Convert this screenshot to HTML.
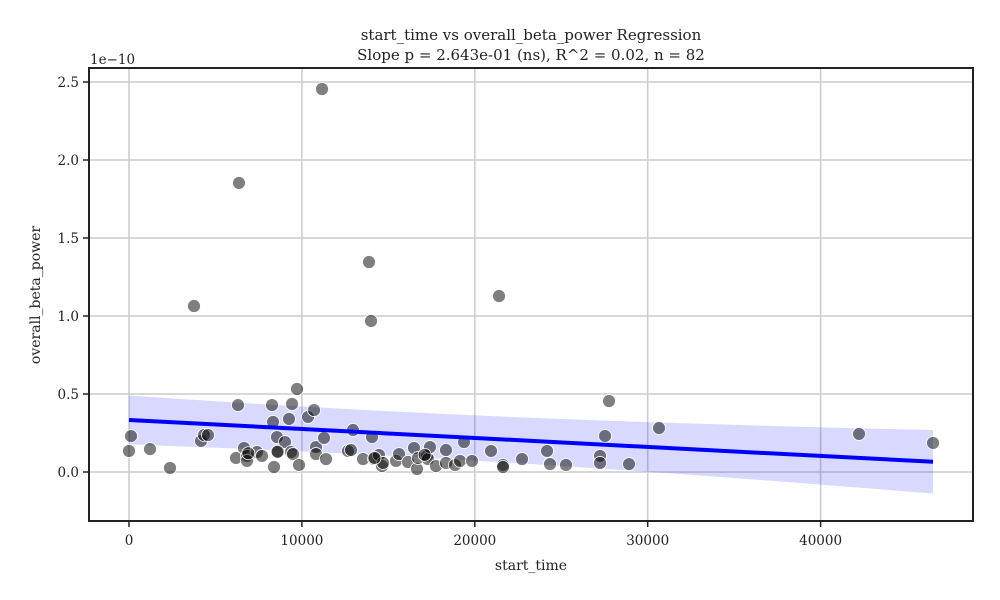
<!DOCTYPE html>
<html><head><meta charset="utf-8"><style>body{margin:0;background:#fff}svg{display:block}text{font-family:"DejaVu Serif","Liberation Serif",serif;fill:#222}</style></head>
<body>
<svg id="chart" width="1000" height="600"></svg>
<script>
const xTicks=[0,10000,20000,30000,40000];
const yTicks=[0,0.5,1.0,1.5,2.0,2.5];
const yTickLabels=["0.0","0.5","1.0","1.5","2.0","2.5"];
const startTime=[116,0,1215,2372,4164,4338,4570,6305,6189,6652,6825,6825,7404,7693,8271,8329,8560,8560,8387,9023,9254,9428,9370,9486,9717,9833,10354,10700,10816,10816,11279,11395,12667,12841,12957,13535,14055,14171,14460,14634,14692,15443,15617,16137,16484,16658,16716,17236,17294,17410,17757,18335,18335,18856,19145,19376,19839,20938,21632,21632,22731,24177,24351,25276,27243,27243,27532,27763,30655,28920,42223,46503,11163,6362,3760,13882,13997,21401,17100,14200,6900,8600];
const betaPower=[0.23,0.135,0.147,0.026,0.199,0.237,0.237,0.429,0.090,0.154,0.103,0.071,0.128,0.103,0.429,0.321,0.224,0.128,0.032,0.192,0.340,0.436,0.128,0.115,0.532,0.045,0.353,0.397,0.160,0.115,0.218,0.083,0.135,0.141,0.269,0.083,0.224,0.083,0.109,0.038,0.058,0.071,0.115,0.064,0.154,0.019,0.090,0.103,0.083,0.160,0.038,0.141,0.058,0.045,0.071,0.192,0.071,0.135,0.045,0.032,0.083,0.135,0.051,0.045,0.103,0.058,0.231,0.455,0.282,0.051,0.244,0.186,2.455,1.853,1.064,1.346,0.968,1.128,0.110,0.090,0.120,0.130];
const NS="http://www.w3.org/2000/svg";
const svg=document.getElementById('chart');
const L=89,R=973,T=68,B=521;
const X=v=>129+v*0.01729;
const Y=v=>472-v*156;
function el(t,a,p){const e=document.createElementNS(NS,t);for(const k in a)e.setAttribute(k,a[k]);(p||svg).appendChild(e);return e;}
xTicks.forEach(v=>{const g=el('line',{x1:X(v),x2:X(v),y1:T,y2:B,stroke:'#cccccc','stroke-width':1.5});


const t=el('line',{x1:X(v),x2:X(v),y1:B,y2:B+6,stroke:'#222','stroke-width':1.5});


const l=el('text',{x:X(v),y:B+24,'text-anchor':'middle','font-size':13.5});l.textContent=v;

});
yTicks.forEach((v,i)=>{const g=el('line',{x1:L,x2:R,y1:Y(v),y2:Y(v),stroke:'#cccccc','stroke-width':1.5});


const t=el('line',{x1:L-6,x2:L,y1:Y(v),y2:Y(v),stroke:'#222','stroke-width':1.5});


const l=el('text',{x:L-10,y:Y(v)+5,'text-anchor':'end','font-size':13.5});l.textContent=yTickLabels[i];

});
const n=startTime.length;
const mx=startTime.reduce((a,b)=>a+b,0)/n, my=betaPower.reduce((a,b)=>a+b,0)/n;
let sxx=0,sxy=0;for(let i=0;i<n;i++){sxx+=(startTime[i]-mx)**2;sxy+=(startTime[i]-mx)*(betaPower[i]-my);}
const slope=sxy/sxx, icpt=my-slope*mx;
let sse=0;for(let i=0;i<n;i++)sse+=(betaPower[i]-icpt-slope*startTime[i])**2;
const se=Math.sqrt(sse/(n-2));
const x0=Math.min(...startTime),x1=Math.max(...startTime);
let up=[],lo=[];
for(let k=0;k<=50;k++){const x=x0+(x1-x0)*k/50;const f=icpt+slope*x;const h=1.99*se*Math.sqrt(2.8/n+0.2*(x-mx)**2/sxx);up.push(X(x)+','+Y(f+h));lo.unshift(X(x)+','+Y(f-h));}
const band=el('polygon',{points:up.concat(lo).join(' '),fill:'#0000ff','fill-opacity':0.15});


for(let i=0;i<n;i++){const c=el('circle',{cx:X(startTime[i]),cy:Y(betaPower[i]),r:6.5,fill:'rgba(0,0,0,0.5)',stroke:'#fff','stroke-width':0.8});

}
const rl=el('line',{x1:X(x0),y1:Y(icpt+slope*x0),x2:X(x1),y2:Y(icpt+slope*x1),stroke:'#0000ff','stroke-width':4});


const fr=el('rect',{x:L,y:T,width:R-L,height:B-T,fill:'none',stroke:'#222','stroke-width':2});


</script>
<svg width="1000" height="600" style="position:absolute;left:0;top:0">
<text x="531" y="40" text-anchor="middle" font-size="15">start_time vs overall_beta_power Regression</text>
<text x="531" y="60" text-anchor="middle" font-size="15">Slope p = 2.643e-01 (ns), R^2 = 0.02, n = 82</text>
<text x="90" y="64" font-size="13.5">1e−10</text>
<text x="531" y="570" text-anchor="middle" font-size="14">start_time</text>
<text transform="translate(40,295) rotate(-90)" text-anchor="middle" font-size="14">overall_beta_power</text>
</svg>
</body></html>
